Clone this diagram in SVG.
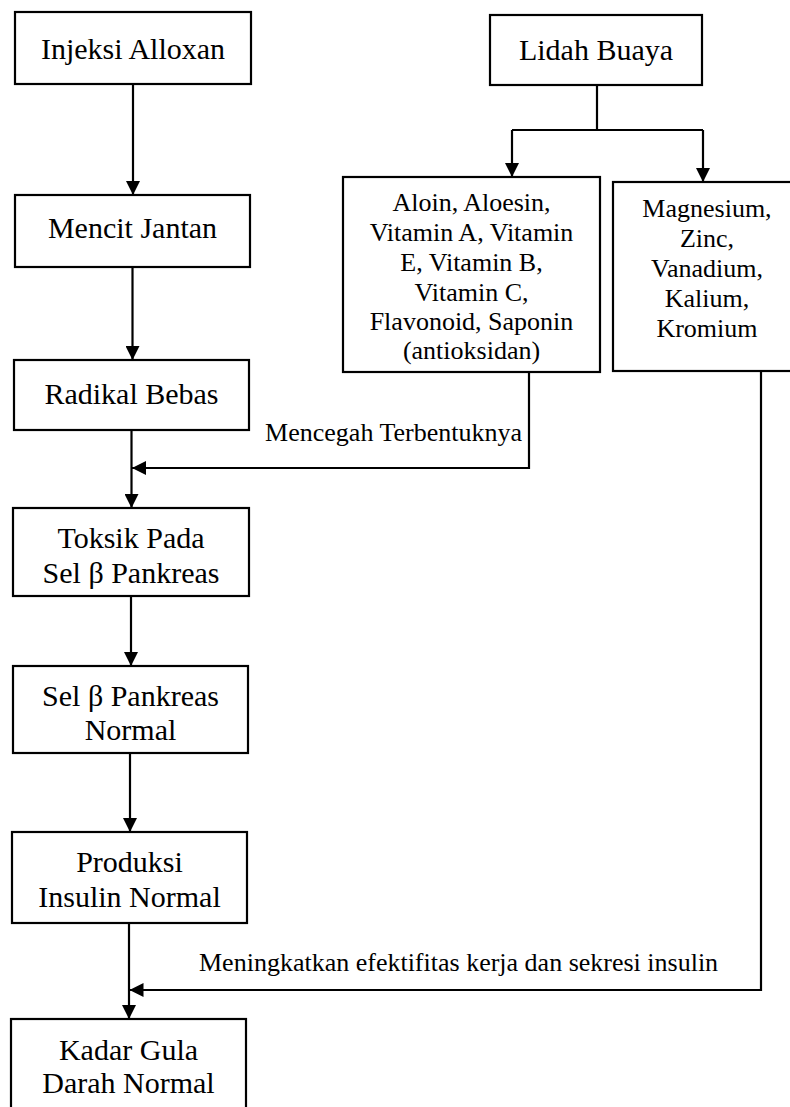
<svg xmlns="http://www.w3.org/2000/svg" width="790" height="1107" viewBox="0 0 790 1107">
<style>
.box{fill:#fff;stroke:#000;stroke-width:2.2}
.big{font-family:"Liberation Serif","Times New Roman",serif;font-size:30px;fill:#000;text-anchor:middle}
.mid{font-family:"Liberation Serif","Times New Roman",serif;font-size:26px;fill:#000;text-anchor:middle}
.lbl{font-family:"Liberation Serif","Times New Roman",serif;font-size:26px;fill:#000}
.ln{fill:none;stroke:#000;stroke-width:2.2}
</style>
<defs>
<marker id="ah" viewBox="0 0 10 10" refX="10" refY="5" markerWidth="15" markerHeight="14" markerUnits="userSpaceOnUse" orient="auto">
<path d="M0,0 L10,5 L0,10 Z" fill="#000"/>
</marker>
</defs>
<rect width="790" height="1107" fill="#fff"/>
<g id="connectors">
<path class="ln" d="M133,84 V195" marker-end="url(#ah)"/>
<path class="ln" d="M132.5,267 V360" marker-end="url(#ah)"/>
<path class="ln" d="M131.5,430 V508" marker-end="url(#ah)"/>
<path class="ln" d="M131,596 V666" marker-end="url(#ah)"/>
<path class="ln" d="M130,753 V832" marker-end="url(#ah)"/>
<path class="ln" d="M129,923 V1019" marker-end="url(#ah)"/>
<path class="ln" d="M597,85 V130 M512,130 H703"/>
<path class="ln" d="M512,130 V177" marker-end="url(#ah)"/>
<path class="ln" d="M703,130 V182" marker-end="url(#ah)"/>
<path class="ln" d="M529,372 V468 H132" marker-end="url(#ah)"/>
<path class="ln" d="M761,371 V990 H129.5" marker-end="url(#ah)"/>
<text class="lbl" x="522" y="441" text-anchor="end">Mencegah Terbentuknya</text>
<text class="lbl" x="199" y="971">Meningkatkan efektifitas kerja dan sekresi insulin</text>
</g>
<g id="injeksi">
<rect class="box" x="15" y="12" width="236" height="72"/>
<text class="big" x="133" y="59">Injeksi Alloxan</text>
</g>
<g id="lidah">
<rect class="box" x="490" y="15" width="212" height="70"/>
<text class="big" x="596" y="60">Lidah Buaya</text>
</g>
<g id="mencit">
<rect class="box" x="15" y="195" width="235" height="72"/>
<text class="big" x="132.5" y="238">Mencit Jantan</text>
</g>
<g id="aloin">
<rect class="box" x="343" y="177" width="257" height="195"/>
<text class="mid" x="471.5" y="211">Aloin, Aloesin,</text>
<text class="mid" x="471.5" y="241">Vitamin A, Vitamin</text>
<text class="mid" x="471.5" y="271">E, Vitamin B,</text>
<text class="mid" x="471.5" y="301">Vitamin C,</text>
<text class="mid" x="471.5" y="330">Flavonoid, Saponin</text>
<text class="mid" x="471.5" y="359">(antioksidan)</text>
</g>
<g id="mineral">
<rect class="box" x="613" y="182" width="188" height="189"/>
<text class="mid" x="707" y="217">Magnesium,</text>
<text class="mid" x="707" y="247">Zinc,</text>
<text class="mid" x="707" y="277">Vanadium,</text>
<text class="mid" x="707" y="307">Kalium,</text>
<text class="mid" x="707" y="337">Kromium</text>
</g>
<g id="radikal">
<rect class="box" x="14" y="360" width="235" height="70"/>
<text class="big" x="131.5" y="404">Radikal Bebas</text>
</g>
<g id="toksik">
<rect class="box" x="13" y="508" width="236" height="88"/>
<text class="big" x="131" y="548">Toksik Pada</text>
<text class="big" x="131" y="583">Sel β Pankreas</text>
</g>
<g id="selnormal">
<rect class="box" x="13" y="666" width="235" height="87"/>
<text class="big" x="130.5" y="706">Sel β Pankreas</text>
<text class="big" x="130.5" y="740">Normal</text>
</g>
<g id="produksi">
<rect class="box" x="12" y="832" width="235" height="91"/>
<text class="big" x="129.5" y="872">Produksi</text>
<text class="big" x="129.5" y="907">Insulin Normal</text>
</g>
<g id="kadar">
<rect class="box" x="11" y="1019" width="235" height="100"/>
<text class="big" x="128.5" y="1060">Kadar Gula</text>
<text class="big" x="128.5" y="1093">Darah Normal</text>
</g>
</svg>
